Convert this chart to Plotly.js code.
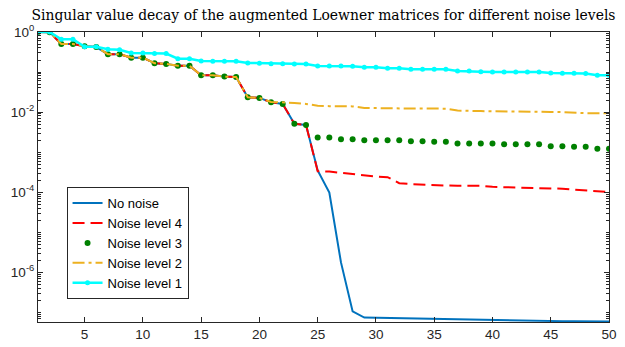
<!DOCTYPE html>
<html>
<head>
<meta charset="utf-8">
<script src="https://cdn.plot.ly/plotly-3.0.1.min.js"></script>
<style>html,body{margin:0;padding:0;background:#fff;}#chart{width:625px;height:347px;}</style>
</head>
<body>
<div id="chart"></div>
<script>
// index of singular value
const idx = [1,2,3,4,5,6,7,8,9,10,11,12,13,14,15,16,17,18,19,20,21,22,23,24,25,26,27,28,29,30,31,32,33,34,35,36,37,38,39,40,41,42,43,44,45,46,47,48,49,50];

const noNoise = [1.0,0.99,0.50,0.50,0.44,0.42,0.28,0.28,0.229,0.229,0.166,0.160,0.144,0.144,0.083,0.083,0.077,0.075,0.0235,0.0226,
  0.0177,0.0160,0.0051,0.0048,3.5e-4,9.8e-5,1.77e-6,1.06e-7,7.4e-8,7.3e-8,
  7.2e-8,7.1e-8,7.0e-8,6.9e-8,6.8e-8,6.7e-8,6.6e-8,6.5e-8,6.4e-8,6.3e-8,
  6.25e-8,6.2e-8,6.15e-8,6.1e-8,6.1e-8,6.05e-8,6.0e-8,6.0e-8,5.95e-8,5.9e-8];

const noise4 = [1.0,0.99,0.50,0.50,0.44,0.42,0.28,0.28,0.229,0.229,0.166,0.160,0.144,0.144,0.083,0.083,0.077,0.075,0.0235,0.0226,
  0.0177,0.0160,0.0051,0.0048,3.35e-4,3.29e-4,3.05e-4,2.82e-4,2.61e-4,2.47e-4,
  2.38e-4,1.68e-4,1.59e-4,1.53e-4,1.50e-4,1.47e-4,1.45e-4,1.45e-4,1.45e-4,1.36e-4,
  1.34e-4,1.32e-4,1.29e-4,1.27e-4,1.27e-4,1.22e-4,1.15e-4,1.11e-4,1.07e-4,1.02e-4];

const noise3 = [1.0,0.99,0.50,0.50,0.44,0.42,0.28,0.28,0.229,0.229,0.166,0.160,0.144,0.144,0.083,0.083,0.077,0.075,0.0235,0.0226,
  0.0177,0.0160,0.0051,0.0048,2.32e-3,2.32e-3,2.10e-3,2.10e-3,1.99e-3,1.99e-3,
  1.99e-3,1.99e-3,1.88e-3,1.88e-3,1.81e-3,1.81e-3,1.64e-3,1.64e-3,1.64e-3,1.64e-3,
  1.58e-3,1.58e-3,1.58e-3,1.58e-3,1.41e-3,1.41e-3,1.36e-3,1.36e-3,1.21e-3,1.21e-3];

const noise2 = [1.0,0.99,0.50,0.50,0.44,0.42,0.28,0.28,0.229,0.229,0.166,0.160,0.144,0.144,0.083,0.083,0.077,0.075,0.0235,0.0226,
  0.0180,0.0176,0.0170,0.0160,0.0144,0.0141,0.0141,0.0139,0.0127,0.0125,
  0.0124,0.0124,0.0123,0.0123,0.0123,0.0122,0.0109,0.0106,0.0106,0.0105,
  0.0105,0.0105,0.0104,0.0104,0.0101,0.0100,0.0095,0.0094,0.0094,0.0094];

const noise1 = [1.0,1.0,0.66,0.66,0.43,0.43,0.37,0.36,0.30,0.30,
  0.29,0.29,0.216,0.216,0.189,0.186,0.186,0.186,0.169,0.166,
  0.162,0.162,0.159,0.159,0.142,0.142,0.142,0.140,0.132,0.132,
  0.124,0.124,0.117,0.117,0.117,0.117,0.1065,0.1065,0.102,0.101,
  0.101,0.100,0.100,0.100,0.095,0.094,0.094,0.092,0.083,0.083];

const seriesNames = ['No noise','Noise level 4','Noise level 3','Noise level 2','Noise level 1'];

const xTickVals = [5,10,15,20,25,30,35,40,45,50];
const xTickText = ['5','10','15','20','25','30','35','40','45','50'];
const yTickVals = [1e-6,1e-4,1e-2,1];
const yTickText = ['10<sup>-6</sup>','10<sup>-4</sup>','10<sup>-2</sup>','10<sup>0</sup>'];
const yMinorVals = [1e-7,1e-5,1e-3,1e-1];
[1e-8,1e-7,1e-6,1e-5,1e-4,1e-3,1e-2,1e-1].forEach(function(d){
  [2,3,4,5,6,7,8,9].forEach(function(m){ yMinorVals.push(m*d); });
});

const axisColor = '#262626';
const font = 'Liberation Sans, Arial, Helvetica, sans-serif';

const traces = [
  {x: idx, y: noNoise, name: seriesNames[0], mode: 'lines', line: {color: '#0072BD', width: 2}},
  {x: idx, y: noise4, name: seriesNames[1], mode: 'lines', line: {color: '#FF0000', width: 2, dash: '12px,6px'}},
  {x: idx, y: noise3, name: seriesNames[2], mode: 'markers', marker: {color: '#008000', size: 6, symbol: 'circle'}},
  {x: idx, y: noise2, name: seriesNames[3], mode: 'lines', line: {color: '#EDB120', width: 2, dash: '12px,4px,3px,4px'}},
  {x: idx, y: noise1, name: seriesNames[4], mode: 'lines+markers', line: {color: '#00FFFF', width: 2.5}, marker: {color: '#00FFFF', size: 5}}
];

const layout = {
  width: 625, height: 347,
  margin: {l: 37.7, r: 16, t: 32, b: 24.7, pad: 0},
  paper_bgcolor: '#fff', plot_bgcolor: '#fff',
  showlegend: true,
  title: {
    text: 'Singular value decay of the augmented Loewner matrices for different noise levels',
    font: {family: 'DejaVu Serif, serif', size: 13.9, color: '#000'},
    x: 0.5, xref: 'paper', xanchor: 'center',
    y: 0.956, yref: 'container', yanchor: 'middle'
  },
  xaxis: {
    range: [1, 50], tickmode: 'array', tickvals: xTickVals, ticktext: xTickText,
    ticks: 'inside', ticklen: 5, tickwidth: 1, tickcolor: axisColor,
    showline: true, linecolor: axisColor, linewidth: 1, mirror: 'ticks',
    showgrid: false, zeroline: false,
    tickfont: {family: font, size: 13.5, color: axisColor}
  },
  yaxis: {
    type: 'log', range: [-7.24, 0], tickmode: 'array', tickvals: yTickVals, ticktext: yTickText,
    ticks: 'inside', ticklen: 5, tickwidth: 1, tickcolor: axisColor,
    minor: {tickmode: 'array', tickvals: yMinorVals, ticks: 'inside', ticklen: 3, tickcolor: axisColor, showgrid: false},
    showline: true, linecolor: axisColor, linewidth: 1, mirror: 'ticks',
    showgrid: false, zeroline: false,
    tickfont: {family: font, size: 13.5, color: axisColor}
  },
  legend: {
    x: 0.05, y: 0.465, xanchor: 'left', yanchor: 'top',
    bgcolor: '#fff', bordercolor: axisColor, borderwidth: 1,
    font: {family: font, size: 13, color: '#000'},
    tracegroupgap: 0
  }
};

Plotly.newPlot('chart', traces, layout, {displayModeBar: false, staticPlot: true});
</script>
</body>
</html>
